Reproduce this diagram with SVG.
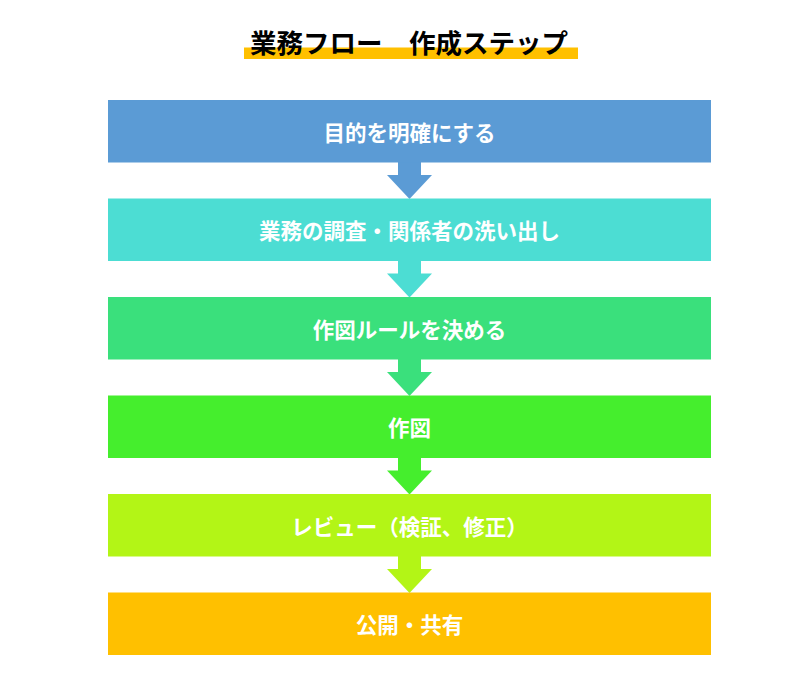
<svg xmlns="http://www.w3.org/2000/svg" width="811" height="680" viewBox="0 0 811 680">
<style>
.lbl{font-family:"Noto Sans CJK JP","Noto Sans",sans-serif;font-weight:bold;font-size:21.5px;fill:#ffffff;text-anchor:middle;dominant-baseline:central}
.title{font-family:"Noto Sans CJK JP","Noto Sans",sans-serif;font-weight:bold;font-size:26.5px;fill:#000000;text-anchor:middle}
</style>
<rect width="811" height="680" fill="#ffffff"/>
<g id="title">
<rect x="244" y="47.5" width="334" height="11.5" fill="#FFC000"/>
<text class="title" x="409" y="53">業務フロー　作成ステップ</text>
</g>
<g id="connectors">
<path d="M398,162 H421 V175 H432 L409.5,199 L387,175 H398 Z" fill="#5B9BD5"/>
<path d="M398,260.5 H421 V273.5 H432 L409.5,297.5 L387,273.5 H398 Z" fill="#4CDDD3"/>
<path d="M398,359 H421 V372 H432 L409.5,396 L387,372 H398 Z" fill="#3AE07C"/>
<path d="M398,457.5 H421 V470.5 H432 L409.5,494.5 L387,470.5 H398 Z" fill="#45EE2D"/>
<path d="M398,556 H421 V569 H432 L409.5,593 L387,569 H398 Z" fill="#B3F516"/>
</g>
<g id="step1"><rect x="108" y="100" width="603" height="62.5" fill="#5B9BD5"/><text class="lbl" x="409.5" y="131">目的を明確にする</text></g>
<g id="step2"><rect x="108" y="198.5" width="603" height="62.5" fill="#4CDDD3"/><text class="lbl" x="409.5" y="229.5">業務の調査・関係者の洗い出し</text></g>
<g id="step3"><rect x="108" y="297" width="603" height="62.5" fill="#3AE07C"/><text class="lbl" x="409.5" y="328">作図ルールを決める</text></g>
<g id="step4"><rect x="108" y="395.5" width="603" height="62.5" fill="#45EE2D"/><text class="lbl" x="409.5" y="426.5">作図</text></g>
<g id="step5"><rect x="108" y="494" width="603" height="62.5" fill="#B3F516"/><text class="lbl" x="409.5" y="525">レビュー（検証、修正）</text></g>
<g id="step6"><rect x="108" y="592.5" width="603" height="62.5" fill="#FFC000"/><text class="lbl" x="409.5" y="623.5">公開・共有</text></g>
</svg>
